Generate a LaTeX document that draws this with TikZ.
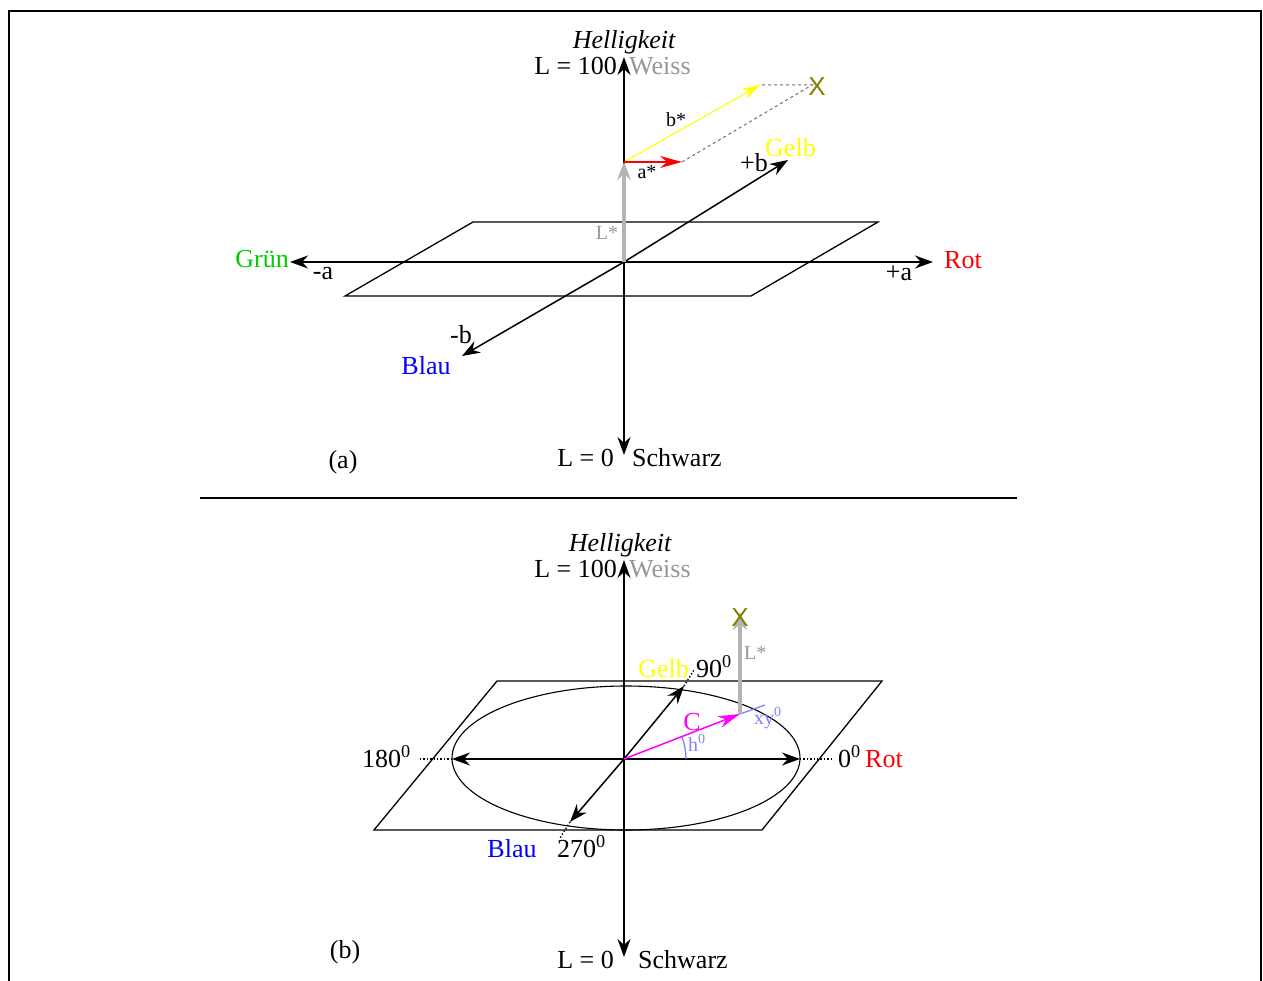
\documentclass[tikz,border=0pt]{standalone}
\usepackage{fontspec}
\setmainfont{Liberation Serif}
\newfontfamily\xfont{Liberation Sans}
\usetikzlibrary{arrows.meta}
\definecolor{labgreen}{RGB}{0,204,0}
\definecolor{labyellow}{RGB}{255,255,0}
\definecolor{labolive}{RGB}{128,128,0}
\definecolor{labgray}{RGB}{150,150,150}
\definecolor{labbar}{RGB}{180,180,180}
\definecolor{labdash}{RGB}{110,110,110}
\definecolor{labhue}{RGB}{128,128,255}
\definecolor{labmag}{RGB}{255,0,255}
\tikzset{
  axis/.style   = {line width=1.5pt, -{Stealth[length=18pt, width=13pt]}},
  plane/.style  = {line width=1.3pt},
  lstar/.style  = {line width=4pt, draw=labbar, -{Stealth[length=18pt, width=14pt]}},
  thin/.style   = {line width=1.1pt, -{Stealth[length=18pt, width=11pt]}},
  vec/.style    = {line width=1.5pt, -{Stealth[length=22pt, width=12pt]}},
  guide/.style  = {line width=1.4pt, dotted},
  lbl/.style    = {font=\fontsize{26}{30}\selectfont, inner sep=0pt},
  sml/.style    = {font=\fontsize{20}{24}\selectfont, inner sep=0pt},
}

\begin{document}
\begin{tikzpicture}[x=1pt, y=-1pt]
  \useasboundingbox (0,0) rectangle (1263,981);
  % frame
  \draw[line width=2pt] (9,981) -- (9,11) -- (1261,11) -- (1261,981);

  % ---- (a) rectangular L*a*b*
  \coordinate (oa) at (624,262);
  \coordinate (topa) at (624,57);
  \coordinate (bota) at (624,455);
  \coordinate (gra) at (290,262);
  \coordinate (rta) at (933,262);
  \coordinate (yea) at (788,160);
  \coordinate (bla) at (462,356);
  \draw[plane] (345,296) -- (473,222) -- (878,222) -- (751,296) -- cycle;
  \draw[axis] (oa) -- (topa);
  \draw[axis] (oa) -- (bota);
  \draw[axis] (oa) -- (gra);
  \draw[axis] (oa) -- (rta);
  \draw[axis] (oa) -- (yea);
  \draw[axis] (oa) -- (bla);

  \coordinate (pa) at (624,162);
  \coordinate (ea) at (682,162);
  \coordinate (eb) at (760,85);
  \coordinate (xa) at (812,85);
  \draw[lstar] (oa) -- (pa);
  \draw[line width=1pt, labdash, dashed] (ea) -- (xa) -- (eb);
  \draw[thin, labyellow] (pa) -- (eb);
  \draw[vec, red] (pa) -- (ea);

  \node[lbl, anchor=base] (hella) at (624,49) {\itshape Helligkeit};
  \node[lbl, anchor=base east] (l100a) at (617,75) {L = 100};
  \node[lbl, anchor=base west, labgray] (weissa) at (629,75) {Weiss};
  \node[lbl, anchor=base east, labgreen] (gruen) at (289,268) {Grün};
  \node[lbl, anchor=base] (mina) at (323,280) {-a};
  \node[lbl, anchor=base] (plsa) at (899,281) {+a};
  \node[lbl, anchor=base west, red] (rota) at (944,269) {Rot};
  \node[lbl, anchor=base] (plsb) at (754,172) {+b};
  \node[lbl, anchor=base west, labyellow] (gelba) at (765,157) {Gelb};
  \node[lbl, anchor=base] (minb) at (461,344) {-b};
  \node[lbl, anchor=base, blue] (blaua) at (426,374) {Blau};
  \node[lbl, anchor=base east] (l0a) at (614,466) {L = 0};
  \node[lbl, anchor=base west] (schwa) at (632,466) {Schwarz};
  \node[lbl, anchor=base] (capa) at (343,468) {(a)};
  \node[sml, anchor=base, labgray] (lsa) at (607,240) {L*};
  \node[sml, anchor=base] (asa) at (647,179) {a*};
  \node[sml, anchor=base] (bsa) at (676,127) {b*};
  \node[lbl, labolive] (xpa) at (817,87) {\xfont X};

  % separator
  \draw[line width=1.8pt] (200,498) -- (1017,498);

  % ---- (b) polar L*C*h
  \coordinate (ob) at (624,759);
  \coordinate (topb) at (624,560);
  \coordinate (botb) at (624,957);
  \coordinate (rtb) at (800,759);
  \coordinate (grb) at (452,759);
  \coordinate (yeb) at (684,686);
  \coordinate (blb) at (570,822);
  \coordinate (cb) at (740,714);
  \coordinate (xb) at (740,612);
  \draw[plane] (374,830) -- (497,681) -- (882,681) -- (762,830) -- cycle;
  \draw[line width=1.1pt] (626,758) ellipse [x radius=174, y radius=72];
  \draw[axis] (ob) -- (topb);
  \draw[axis] (ob) -- (botb);
  \draw[axis] (ob) -- (rtb);
  \draw[axis] (ob) -- (grb);
  \draw[axis] (ob) -- (yeb);
  \draw[axis] (ob) -- (blb);
  \draw[guide] (rtb) -- (832,759);
  \draw[guide] (grb) -- (418,759);
  \draw[guide] (yeb) -- (694,670);
  \draw[guide] (blb) -- (560,838);

  \draw[line width=1.3pt, labhue] (cb) -- (765,705);
  \draw[line width=1.3pt, labhue] (ob) ++(62pt,0pt) arc[start angle=0, end angle=21, radius=62pt];
  \draw[lstar] (cb) -- (xb);
  \draw[vec, labmag] (ob) -- (cb);

  \node[lbl, anchor=base] (hellb) at (620,551) {\itshape Helligkeit};
  \node[lbl, anchor=base east] (l100b) at (617,577) {L = 100};
  \node[lbl, anchor=base west, labgray] (weissb) at (629,577) {Weiss};
  \node[lbl, labolive] (xpb) at (740,618) {\xfont X};
  \node[sml, anchor=base west, labgray] (lsb) at (744,659) {L*};
  \node[lbl, anchor=base east, labyellow] (gelbb) at (689,677) {Gelb};
  \node[lbl, anchor=base west] (d90) at (696,677) {90\textsuperscript{0}};
  \node[lbl, anchor=base, labmag] (cl) at (692,730) {C};
  \node[sml, anchor=base west, labhue] (xyl) at (754,724) {xy\textsuperscript{0}};
  \node[sml, anchor=base west, labhue] (hl) at (688,751) {h\textsuperscript{0}};
  \node[lbl, anchor=base east] (d180) at (411,767) {180\textsuperscript{0}};
  \node[lbl, anchor=base west] (d0) at (838,767) {0\textsuperscript{0}};
  \node[lbl, anchor=base west, red] (rotb) at (865,767) {Rot};
  \node[lbl, anchor=base, blue] (blaub) at (512,857) {Blau};
  \node[lbl, anchor=base west] (d270) at (557,857) {270\textsuperscript{0}};
  \node[lbl, anchor=base east] (l0b) at (614,968) {L = 0};
  \node[lbl, anchor=base west] (schwb) at (638,968) {Schwarz};
  \node[lbl, anchor=base] (capb) at (345,958) {(b)};
\end{tikzpicture}
\end{document}
